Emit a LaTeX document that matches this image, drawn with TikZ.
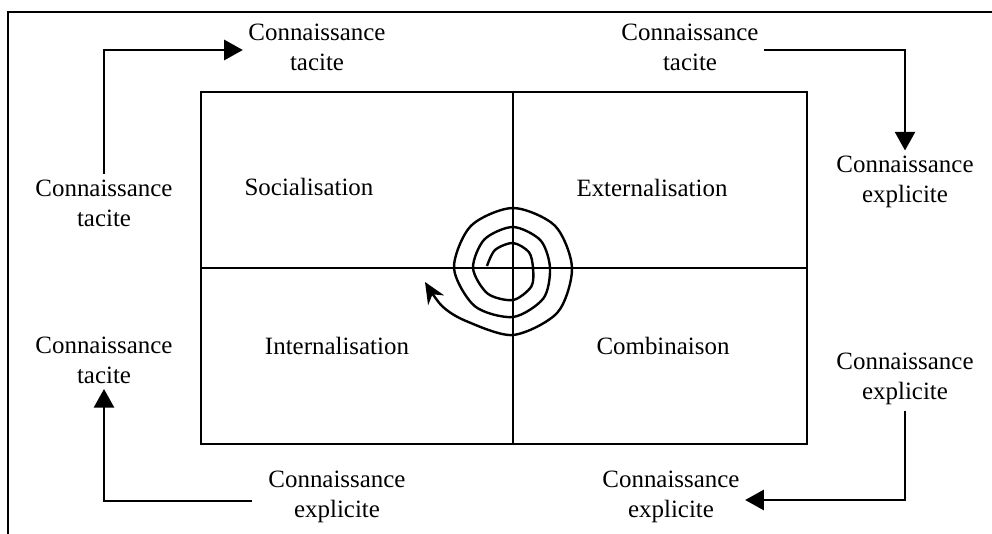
\documentclass[tikz,border=0pt]{standalone}
\usepackage{fontspec}
\setmainfont{Liberation Serif}
\usepackage{tikz}
\usetikzlibrary{arrows.meta}

\begin{document}
\begin{tikzpicture}[x=0.75pt,y=0.75pt,yscale=-1,xscale=1,
    lbl/.style={align=center,inner sep=4pt,font=\fontsize{18.7}{22.5}\selectfont},
    quad/.style={inner sep=0.75pt,font=\fontsize{18.7}{22.5}\selectfont},
    flow/.style={line width=2pt,line join=miter,-{Triangle[length=14pt,width=15pt]}}]
    \useasboundingbox (0,0) rectangle (992,534);

    %Frame
    \draw  [line width=2pt,line join=miter]  (8,534) -- (8,12) -- (992,12) ;
    %Shape: Rectangle
    \draw  [line width=1.1pt]  (201,92) rectangle (807,444) ;
    %Straight Lines
    \draw  [line width=1.1pt]  (513,92) -- (513,444) ;
    %Straight Lines
    \draw  [line width=1.1pt]  (201,268) -- (807,268) ;

    %Spiral
    \draw  [line width=1.8pt,-{Stealth[length=16pt,width=14pt]}]  plot [smooth] coordinates {
        (487,266) (495,250) (513,243) (528.9,252.1) (533,268) (531.4,286.4) (513,300)
        (487.5,293.5) (473,268) (484.4,239.4) (513,227) (540.6,240.4) (550,268)
        (543.4,298.4) (513,317) (474.8,306.2) (454,268) (470.9,225.9) (513,208)
        (555.1,225.9) (572,268) (557.5,312.5) (513,335) (466,321) (442,306) (425,282)} ;

    % Text Node
    \node [quad] (soc) at (309,187) {Socialisation};
    % Text Node
    \node [quad] (ext) at (652,188) {Externalisation};
    % Text Node
    \node [quad] (int) at (337,346) {Internalisation};
    % Text Node
    \node [quad] (com) at (663,346) {Combinaison};

    % Text Node
    \node [lbl] (tl) at (317,47) {Connaissance\\tacite};
    % Text Node
    \node [lbl] (tr) at (690,47) {Connaissance\\tacite};
    % Text Node
    \node [lbl] (lt) at (104,203) {Connaissance\\tacite};
    % Text Node
    \node [lbl] (rt) at (905,182) {Connaissance\\explicite};
    % Text Node
    \node [lbl] (lb) at (104,360) {Connaissance\\tacite};
    % Text Node
    \node [lbl] (rb) at (905,379) {Connaissance\\explicite};
    % Text Node
    \node [lbl] (bl) at (337,497) {Connaissance\\explicite};
    % Text Node
    \node [lbl] (br) at (671,497) {Connaissance\\explicite};

    %Connectors
    \draw  [flow]  (lt.north) |- ([yshift=2.25pt]tl.west) ;
    \draw  [flow]  ([yshift=2.25pt]tr.east) -| (rt.north) ;
    \draw  [flow]  (rb.south) |- ([yshift=2.25pt]br.east) ;
    \draw  [flow]  ([xshift=-8pt,yshift=3pt]bl.west) -| (lb.south) ;

\end{tikzpicture}
\end{document}
